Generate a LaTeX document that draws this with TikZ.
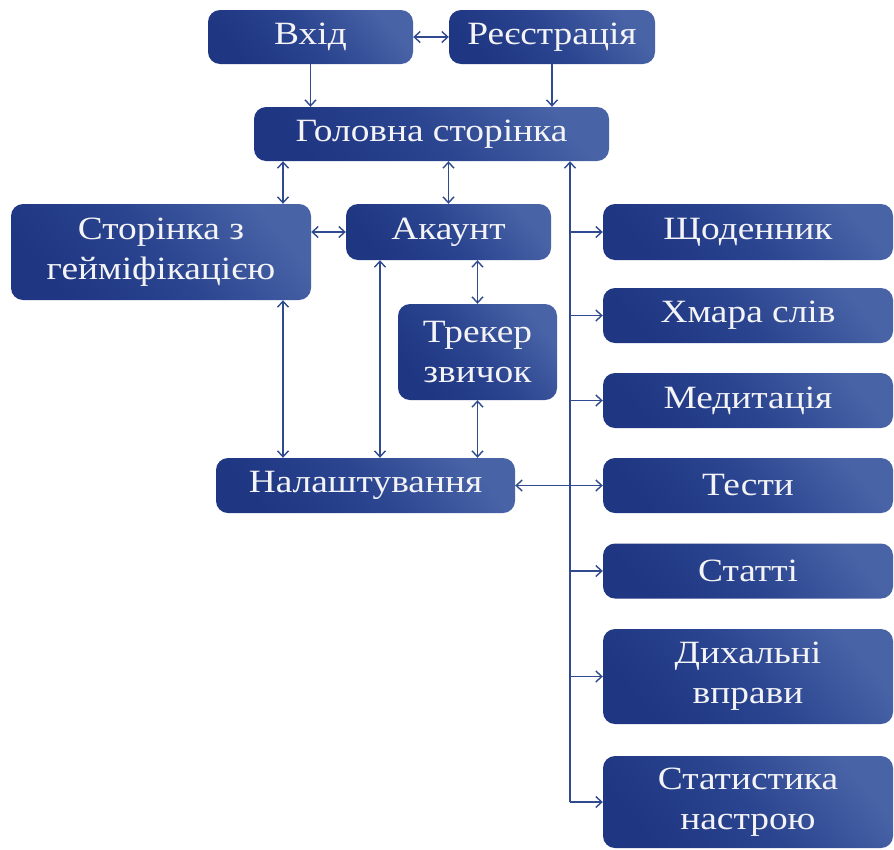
\documentclass[tikz,border=0pt]{standalone}
\usepackage{fontspec}
\setmainfont[FakeStretch=1.15]{Liberation Serif}
\usetikzlibrary{arrows.meta,calc}
\definecolor{boxdark}{HTML}{1F3682}
\definecolor{boxmid}{HTML}{2B4590}
\definecolor{boxlight}{HTML}{4863A6}
\definecolor{linec}{HTML}{2F4A8E}
\definecolor{txt}{HTML}{F4F4F6}
\tikzset{
  box/.style={rounded corners=12pt, bottom color=boxdark, top color=boxlight, middle color=boxmid, shading angle=-50,
    text=txt, font=\fontsize{32.5}{40}\selectfont, align=center, inner sep=0pt, anchor=center},
  conn/.style={draw=linec, line width=1.6pt, arrows={-Straight Barb[length=6pt,width=11pt,line width=1.4pt]}},
  dconn/.style={draw=linec, line width=1.6pt, arrows={Straight Barb[length=6pt,width=11pt,line width=1.4pt]-Straight Barb[length=6pt,width=11pt,line width=1.4pt]}}
}
\begin{document}
\begin{tikzpicture}[x=1pt,y=-1pt]
\useasboundingbox (0,0) rectangle (894,849);
% nodes
\node[box, minimum width=205pt, minimum height=54pt] (vhid) at (310.5,37) {Вхід};
\node[box, minimum width=206pt, minimum height=54pt] (reg) at (552,37) {Реєстрація};
\node[box, minimum width=355pt, minimum height=54pt] (gol) at (431.5,134) {Головна сторінка};
\node[box, minimum width=300pt, minimum height=96pt] (gam) at (161,252) {Сторінка з\\гейміфікацією};
\node[box, minimum width=205pt, minimum height=56pt] (ak) at (448.5,232) {Акаунт};
\node[box, minimum width=159pt, minimum height=96pt] (trek) at (477.5,352) {Трекер\\звичок};
\node[box, minimum width=299pt, minimum height=55pt] (nal) at (365.5,485.5) {Налаштування};
\node[box, minimum width=290pt, minimum height=56pt] (sch) at (748,232) {Щоденник};
\node[box, minimum width=290pt, minimum height=55pt] (hm) at (748,315.5) {Хмара слів};
\node[box, minimum width=290pt, minimum height=55pt] (med) at (748,400.5) {Медитація};
\node[box, minimum width=290pt, minimum height=55pt] (tst) at (748,485.5) {Тести};
\node[box, minimum width=290pt, minimum height=55pt] (stt) at (748,571) {Статті};
\node[box, minimum width=290pt, minimum height=95pt] (dyh) at (748,676.5) {Дихальні\\вправи};
\node[box, minimum width=290pt, minimum height=92pt] (stat) at (748,802) {Статистика\\настрою};
% helper x positions
\coordinate (xa) at (283,0);
\coordinate (xb) at (380,0);
\coordinate (xt) at (570,0);
% connectors
\draw[dconn] (vhid.east) -- (reg.west);
\draw[conn] (vhid.south) -- (vhid.south |- gol.north);
\draw[conn] (reg.south) -- (reg.south |- gol.north);
\draw[dconn] (gol.south -| xa) -- (gam.north -| xa);
\draw[dconn] (gol.south -| ak.north) -- (ak.north);
\draw[dconn] (gam.east |- ak.west) -- (ak.west);
\draw[dconn] (ak.south -| trek.north) -- (trek.north);
\draw[dconn] (gam.south -| xa) -- (nal.north -| xa);
\draw[dconn] (ak.south -| xb) -- (nal.north -| xb);
\draw[dconn] (trek.south) -- (trek.south |- nal.north);
\draw[conn] (xt |- stat.west) -- (gol.south -| xt);
\draw[dconn] (nal.east) -- (tst.west);
\draw[conn] (xt |- sch.west) -- (sch.west);
\draw[conn] (xt |- hm.west) -- (hm.west);
\draw[conn] (xt |- med.west) -- (med.west);
\draw[conn] (xt |- stt.west) -- (stt.west);
\draw[conn] (xt |- dyh.west) -- (dyh.west);
\draw[conn] (xt |- stat.west) -- (stat.west);
\end{tikzpicture}
\end{document}
